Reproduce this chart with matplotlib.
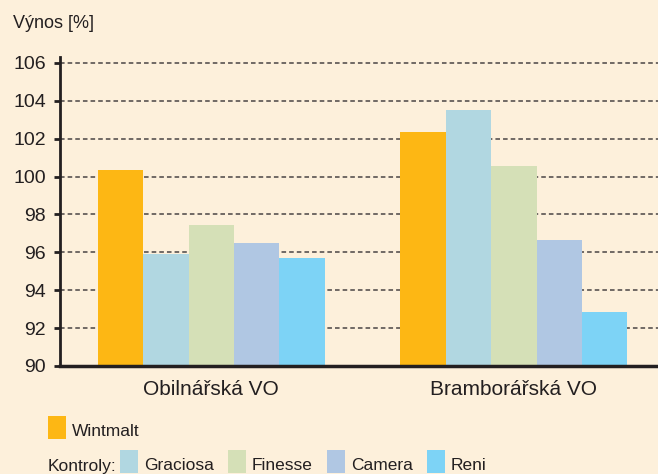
import matplotlib.pyplot as plt
from matplotlib import font_manager
from matplotlib.patches import Rectangle
import numpy as np

# data
groups = ['Obilnářská VO', 'Bramborářská VO']
series = ['Wintmalt', 'Graciosa', 'Finesse', 'Camera', 'Reni']
wintmalt = [100.35, 102.35]
graciosa = [95.9, 103.5]
finesse = [97.45, 100.55]
camera = [96.5, 96.65]
reni = [95.7, 92.85]
yticks = [90, 92, 94, 96, 98, 100, 102, 104, 106]

colors = ['#FDB714', '#B1D7E1', '#D5E0B7', '#B0C7E3', '#7DD3F6']
bg = '#FDF0DB'
ink = '#231F20'

names = {f.name for f in font_manager.fontManager.ttflist}
base_font = 'Liberation Sans' if 'Liberation Sans' in names else 'DejaVu Sans'
narrow = 'Liberation Sans Narrow' in names
plt.rcParams['font.family'] = [base_font, 'DejaVu Sans']

W, H = 658, 474
fig = plt.figure(figsize=(W / 100, H / 100), dpi=100, facecolor=bg)
ax = fig.add_axes([60 / W, 1 - 366 / H, 1 - 60 / W, (366 - 57.2) / H])
ax.set_facecolor(bg)

values = [wintmalt, graciosa, finesse, camera, reni]
x = np.arange(len(groups))
bw = 0.15
for i, (vals, c) in enumerate(zip(values, colors)):
    ax.bar(x + (i - 2) * bw, np.array(vals) - 90, bw, bottom=90, color=c,
           zorder=3, linewidth=0)

ax.set_xlim(-0.5, 1.476)
ax.set_ylim(90, 106.3)
ax.set_yticks(yticks)
ax.set_yticklabels([str(t) for t in yticks], fontsize=14, color=ink)
ax.set_xticks(x)
ax.set_xticklabels(groups, fontsize=15, color=ink)
ax.tick_params(axis='x', length=0, pad=10)
ax.tick_params(axis='y', length=4, width=2, color=ink, pad=6)

ax.yaxis.grid(True, linestyle=(0, (3, 2)), color='#4a4444', linewidth=1.1, zorder=1)
ax.set_axisbelow(True)
for s in ['top', 'right']:
    ax.spines[s].set_visible(False)
ax.spines['left'].set_linewidth(2)
ax.spines['left'].set_color(ink)
ax.spines['bottom'].set_linewidth(2.5)
ax.spines['bottom'].set_color(ink)
ax.spines['bottom'].set_zorder(4)

fig.text(13 / W, 1 - 23 / H, 'Výnos [%]', fontsize=13, color=ink, va='center', ha='left')

# legend drawn by hand
if narrow:
    lfont = dict(family=['Liberation Sans Narrow', base_font], fontsize=14)
else:
    lfont = dict(family=[base_font], fontsize=12.5)


def legend_item(px, py, color, label):
    fig.patches.append(Rectangle((px / W, 1 - (py + 23) / H), 18 / W, 23 / H,
                                 transform=fig.transFigure, color=color, lw=0))
    fig.text((px + 24) / W, 1 - (py + 16) / H, label, color=ink, va='center',
             ha='left', **lfont)


legend_item(48, 416, colors[0], series[0])
fig.text(48 / W, 1 - 466 / H, 'Kontroly:', color=ink, va='center', ha='left', **lfont)
for px, c, lab in zip([120, 228, 327, 427], colors[1:], series[1:]):
    legend_item(px, 450, c, lab)

fig.savefig('out.png', dpi=100, facecolor=bg)
